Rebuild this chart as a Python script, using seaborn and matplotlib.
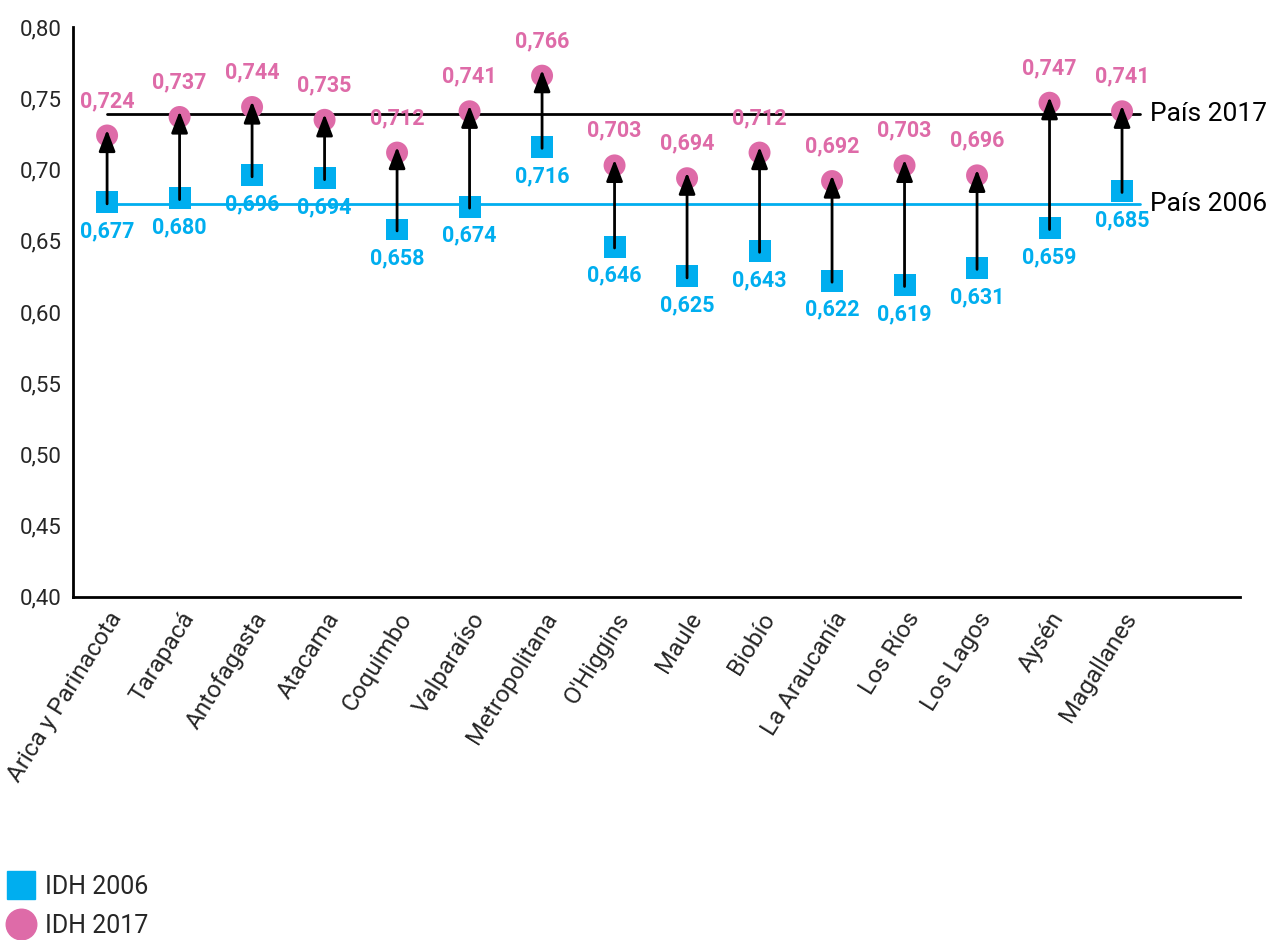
import matplotlib
matplotlib.use("Agg")
import matplotlib.pyplot as plt
import seaborn as sns
import pandas as pd
import numpy as np
from matplotlib.lines import Line2D

regions = ["Arica y Parinacota", "Tarapacá", "Antofagasta", "Atacama", "Coquimbo",
           "Valparaíso", "Metropolitana", "O'Higgins", "Maule", "Biobío",
           "La Araucanía", "Los Ríos", "Los Lagos", "Aysén", "Magallanes"]
idh_2006 = [0.677, 0.680, 0.696, 0.694, 0.658, 0.674, 0.716, 0.646, 0.625, 0.643,
            0.622, 0.619, 0.631, 0.659, 0.685]
idh_2017 = [0.724, 0.737, 0.744, 0.735, 0.712, 0.741, 0.766, 0.703, 0.694, 0.712,
            0.692, 0.703, 0.696, 0.747, 0.741]
pais_2006 = 0.676
pais_2017 = 0.739
y_ticks = [0.40, 0.45, 0.50, 0.55, 0.60, 0.65, 0.70, 0.75, 0.80]

CYAN = "#00AEEF"
PINK = "#DE6BA8"

sns.set_theme(style="white")
plt.rcParams['font.family'] = ['Roboto', 'DejaVu Sans']

df = pd.DataFrame({"region": regions, "x": np.arange(len(regions)),
                   "i2006": idh_2006, "i2017": idh_2017})

fig = plt.figure(figsize=(12.72, 9.40), dpi=100)
ax = fig.add_axes([0.0574, 0.365, 0.975 - 0.0574, 0.971 - 0.365])

n = len(regions)
ax.plot([0, n - 0.75], [pais_2017, pais_2017], color="black", lw=2, zorder=1)
ax.plot([0, n - 0.75], [pais_2006, pais_2006], color=CYAN, lw=2, zorder=1)
ax.text(n - 0.62, pais_2017, "País 2017", fontsize=19, va="center", ha="left", color="black")
ax.text(n - 0.62, pais_2006, "País 2006", fontsize=19, va="center", ha="left", color="black")

sns.scatterplot(data=df, x="x", y="i2006", marker="s", s=250, color=CYAN,
                edgecolor="none", ax=ax, zorder=3, legend=False)
sns.scatterplot(data=df, x="x", y="i2017", marker="o", s=250, color=PINK,
                edgecolor="none", ax=ax, zorder=3, legend=False)

for _, r in df.iterrows():
    ax.annotate("", xy=(r.x, r.i2017 + 0.004), xytext=(r.x, r.i2006 - 0.001),
                arrowprops=dict(arrowstyle="-|>,head_length=0.65,head_width=0.25",
                                mutation_scale=20,
                                color="black", lw=2, shrinkA=0, shrinkB=0),
                zorder=4)
    ax.annotate(f"{r.i2017:.3f}".replace(".", ","), xy=(r.x, r.i2017),
                xytext=(0, 17), textcoords="offset points", ha="center", va="bottom",
                color=PINK, fontsize=15.5, fontweight="bold", zorder=5)
    ax.annotate(f"{r.i2006:.3f}".replace(".", ","), xy=(r.x, r.i2006),
                xytext=(0, -13), textcoords="offset points", ha="center", va="top",
                color=CYAN, fontsize=15.5, fontweight="bold", zorder=5)

ax.set_xlim(-0.47, n - 1 + 1.63)
ax.set_ylim(0.40, 0.80)
ax.set_yticks(y_ticks)
ax.set_yticklabels([f"{v:.2f}".replace(".", ",") for v in y_ticks], fontsize=16)
ax.set_xticks(df["x"])
ax.set_xticklabels(regions, rotation=58, ha="right", rotation_mode="anchor", fontsize=17.5)
ax.tick_params(axis="both", length=0, pad=8)
ax.set_xlabel("")
ax.set_ylabel("")
for s in ["top", "right"]:
    ax.spines[s].set_visible(False)
for s in ["left", "bottom"]:
    ax.spines[s].set_color("black")
    ax.spines[s].set_linewidth(2)
ax.grid(False)

handles = [Line2D([], [], marker="s", color=CYAN, linestyle="none", markersize=20, label="IDH 2006"),
           Line2D([], [], marker="o", color=PINK, linestyle="none", markersize=22, label="IDH 2017")]
fig.legend(handles=handles, loc="lower left", bbox_to_anchor=(-0.012, -0.022), frameon=False,
           fontsize=18, handletextpad=0.4, labelspacing=0.6, handlelength=1.1)

fig.savefig("out.png", dpi=100)
